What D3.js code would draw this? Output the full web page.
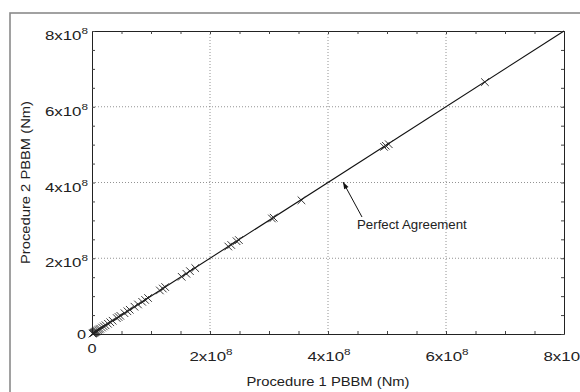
<!DOCTYPE html>
<html lang="en">
<head>
<meta charset="UTF-8">
<title>Procedure 1 vs Procedure 2 PBBM</title>
<script src="https://unpkg.com/d3@7/dist/d3.min.js"></script>
<style>
  body { margin: 0; background: #fff; }
  text { font-family: "Liberation Sans", Arial, sans-serif; fill: #222; }
</style>
</head>
<body>
<script>
// PBBM moments, Nm
var proc1 = [0.01e8, 0.02e8, 0.03e8, 0.04e8, 0.05e8, 0.06e8, 0.07e8, 0.08e8, 0.10e8, 0.12e8,
             0.14e8, 0.17e8, 0.20e8, 0.23e8, 0.27e8, 0.31e8, 0.35e8, 0.42e8, 0.45e8, 0.48e8,
             0.55e8, 0.60e8, 0.64e8, 0.72e8, 0.78e8, 0.85e8, 0.90e8, 0.95e8, 1.15e8, 1.20e8,
             1.24e8, 1.52e8, 1.60e8, 1.66e8, 1.75e8, 2.31e8, 2.36e8, 2.45e8, 2.49e8, 3.05e8,
             3.08e8, 3.55e8, 4.95e8, 4.98e8, 5.03e8, 6.66e8];
var proc2 = [0.01e8, 0.02e8, 0.03e8, 0.04e8, 0.05e8, 0.06e8, 0.07e8, 0.08e8, 0.10e8, 0.12e8,
             0.14e8, 0.17e8, 0.20e8, 0.23e8, 0.27e8, 0.31e8, 0.35e8, 0.42e8, 0.45e8, 0.48e8,
             0.55e8, 0.60e8, 0.64e8, 0.72e8, 0.78e8, 0.85e8, 0.90e8, 0.95e8, 1.15e8, 1.20e8,
             1.24e8, 1.51e8, 1.59e8, 1.66e8, 1.74e8, 2.31e8, 2.35e8, 2.45e8, 2.48e8, 3.05e8,
             3.07e8, 3.53e8, 4.94e8, 4.97e8, 5.01e8, 6.65e8];
var majorTicks = [0, 2e8, 4e8, 6e8, 8e8];
var tickMantissa = ["0", "2", "4", "6", "8"];
var gridTicks = [2e8, 4e8, 6e8];

var W = 580, H = 392;
var pL = 92, pR = 564, pT = 31, pB = 334;

var svg = d3.select("body").append("svg")
  .attr("width", W).attr("height", H);

// outer frame of the figure
svg.append("rect")
  .attr("x", 10).attr("y", 13)
  .attr("width", W + 20).attr("height", H + 20)
  .attr("fill", "none").attr("stroke", "#8a8a8a").attr("stroke-width", 1.6);

var x = d3.scaleLinear().domain([0, 8e8]).range([pL, pR]);
var y = d3.scaleLinear().domain([0, 8e8]).range([pB, pT]);

var minor = d3.range(0, 8.01e8, 0.5e8);

// grid
var grid = svg.append("g").attr("stroke", "#777").attr("stroke-width", 0.8)
  .attr("stroke-dasharray", "1,2");
grid.selectAll(".gx").data(gridTicks).enter().append("line")
  .attr("x1", d => x(d)).attr("x2", d => x(d))
  .attr("y1", pT).attr("y2", pB);
grid.selectAll(".gy").data(gridTicks).enter().append("line")
  .attr("x1", pL).attr("x2", pR)
  .attr("y1", d => y(d)).attr("y2", d => y(d));

// axes, ticks inward on all four sides
function styleAxis(g) {
  g.select(".domain").attr("stroke", "#222");
  g.selectAll(".tick line").attr("stroke", "#444");
  g.selectAll(".tick text").remove();
}
svg.append("g").attr("transform", "translate(0," + pB + ")")
  .call(d3.axisBottom(x).tickValues(minor).tickSize(-3).tickSizeOuter(0)).call(styleAxis);
svg.append("g").attr("transform", "translate(0," + pT + ")")
  .call(d3.axisTop(x).tickValues(minor).tickSize(-3).tickSizeOuter(0)).call(styleAxis);
svg.append("g").attr("transform", "translate(" + pL + ",0)")
  .call(d3.axisLeft(y).tickValues(minor).tickSize(-3).tickSizeOuter(0)).call(styleAxis);
svg.append("g").attr("transform", "translate(" + pR + ",0)")
  .call(d3.axisRight(y).tickValues(minor).tickSize(-3).tickSizeOuter(0)).call(styleAxis);

// text placed at (tx,ty), horizontally stretched like the scanned figure
function label(tx, ty, sx, anchor, size) {
  return svg.append("text")
    .attr("transform", "translate(" + tx + "," + ty + ") scale(" + sx + ",1)")
    .attr("text-anchor", anchor).attr("font-size", size);
}
function power(t, m) {
  t.append("tspan").text(m + "x10");
  t.append("tspan").attr("font-size", 9).attr("dy", -6).text("8");
}

majorTicks.forEach(function (v, i) {
  var m = tickMantissa[i];
  if (v === 0) {
    label(x(v), 353, 1.25, "middle", 13).text(m);
    label(86, y(v) + 5, 1.25, "end", 13).text(m);
  } else {
    power(label(x(v) + 1, 361, 1.3, "middle", 13), m);
    power(label(88, y(v) + 9, 1.3, "end", 13), m);
  }
});

// perfect agreement line
svg.append("line")
  .attr("x1", x(0)).attr("y1", y(0)).attr("x2", x(8e8)).attr("y2", y(8e8))
  .attr("stroke", "#111").attr("stroke-width", 1.1);

// data markers
var pts = proc1.map((d, i) => [d, proc2[i]]);
var s = 3.8;
svg.append("g").selectAll("path").data(pts).enter().append("path")
  .attr("d", d => {
    var px = x(d[0]), py = y(d[1]);
    return "M" + (px - s) + "," + (py - s) + "L" + (px + s) + "," + (py + s) +
           "M" + (px - s) + "," + (py + s) + "L" + (px + s) + "," + (py - s);
  })
  .attr("fill", "none").attr("stroke", "#222").attr("stroke-width", 0.9);

// annotation
svg.append("defs").append("marker")
  .attr("id", "arr").attr("viewBox", "0 0 10 10").attr("refX", 10).attr("refY", 5)
  .attr("markerWidth", 11).attr("markerHeight", 7).attr("markerUnits", "userSpaceOnUse")
  .attr("orient", "auto")
  .append("path").attr("d", "M0,1.5L10,5L0,8.5Z").attr("fill", "#111");
svg.append("line")
  .attr("x1", 362).attr("y1", 217).attr("x2", 343).attr("y2", 182)
  .attr("stroke", "#111").attr("stroke-width", 1).attr("marker-end", "url(#arr)");
label(357, 229, 1.02, "start", 13).text("Perfect Agreement");

// axis titles
label((pL + pR) / 2, 386, 1.18, "middle", 12.5).text("Procedure 1 PBBM (Nm)");
svg.append("text")
  .attr("transform", "translate(30," + (pT + pB) / 2 + ") rotate(-90) scale(1.18,1)")
  .attr("text-anchor", "middle").attr("font-size", 12.5)
  .text("Procedure 2 PBBM (Nm)");
</script>
</body>
</html>
